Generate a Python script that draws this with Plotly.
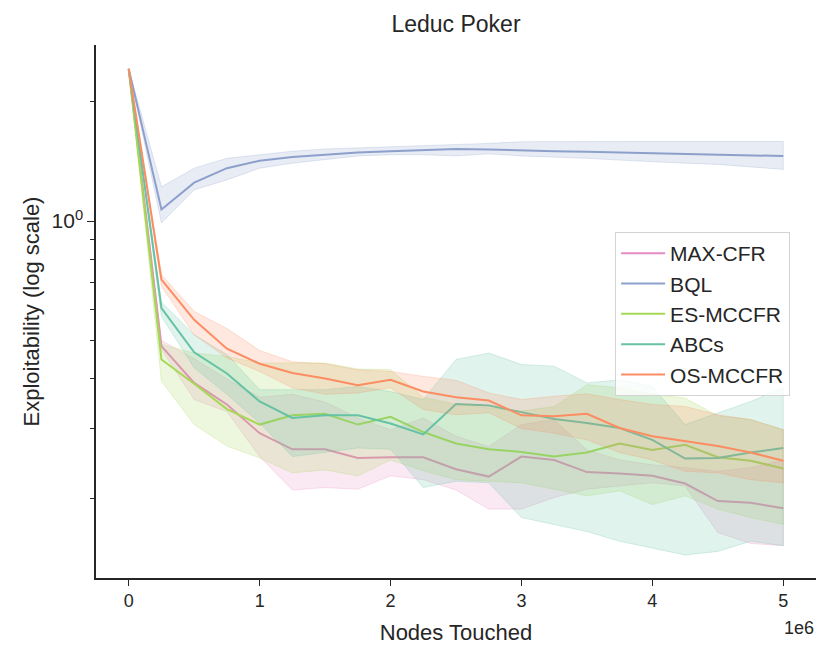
import plotly.graph_objects as go

# Leduc Poker exploitability curves (mean with confidence band)
nodes = [0, 250000, 500000, 750000, 1000000, 1250000, 1500000, 1750000, 2000000,
         2250000, 2500000, 2750000, 3000000, 3250000, 3500000, 3750000, 4000000,
         4250000, 4500000, 4750000, 5000000]

max_cfr = [2.42, 0.484, 0.391, 0.345, 0.292, 0.266, 0.266, 0.253, 0.254, 0.254, 0.237,
           0.227, 0.255, 0.250, 0.233, 0.231, 0.228, 0.218, 0.197, 0.195, 0.189]
max_cfr_lo = [2.42, 0.475, 0.355, 0.331, 0.255, 0.210, 0.213, 0.211, 0.228, 0.223, 0.210,
              0.188, 0.188, 0.201, 0.211, 0.215, 0.219, 0.215, 0.164, 0.154, 0.152]
max_cfr_hi = [2.42, 0.500, 0.450, 0.400, 0.360, 0.366, 0.350, 0.319, 0.298, 0.319, 0.287,
              0.270, 0.307, 0.316, 0.265, 0.250, 0.243, 0.239, 0.234, 0.239, 0.250]

bql = [2.42, 1.07, 1.25, 1.36, 1.42, 1.45, 1.47, 1.49, 1.50, 1.51, 1.52,
       1.516, 1.507, 1.50, 1.496, 1.49, 1.485, 1.478, 1.47, 1.467, 1.459]
bql_lo = [2.42, 0.989, 1.20, 1.27, 1.36, 1.40, 1.43, 1.46, 1.47, 1.47, 1.46,
          1.478, 1.46, 1.45, 1.44, 1.425, 1.41, 1.40, 1.39, 1.37, 1.35]
bql_hi = [2.42, 1.22, 1.36, 1.44, 1.47, 1.50, 1.52, 1.53, 1.54, 1.55, 1.557,
          1.57, 1.585, 1.588, 1.588, 1.588, 1.588, 1.588, 1.588, 1.588, 1.588]

es_mccfr = [2.42, 0.448, 0.389, 0.336, 0.307, 0.324, 0.327, 0.307, 0.321, 0.294, 0.275,
            0.266, 0.262, 0.255, 0.261, 0.275, 0.265, 0.273, 0.254, 0.249, 0.238]
es_mccfr_lo = [2.42, 0.395, 0.307, 0.271, 0.253, 0.232, 0.236, 0.228, 0.250, 0.235, 0.223,
               0.221, 0.219, 0.211, 0.203, 0.209, 0.193, 0.203, 0.188, 0.179, 0.172]
es_mccfr_hi = [2.42, 0.489, 0.465, 0.456, 0.439, 0.439, 0.439, 0.424, 0.422, 0.360, 0.345,
               0.338, 0.332, 0.341, 0.387, 0.380, 0.366, 0.358, 0.323, 0.316, 0.298]

abcs = [2.42, 0.604, 0.467, 0.413, 0.351, 0.319, 0.324, 0.324, 0.309, 0.290, 0.346,
        0.343, 0.330, 0.317, 0.310, 0.301, 0.281, 0.252, 0.253, 0.261, 0.268]
abcs_lo = [2.42, 0.575, 0.427, 0.366, 0.310, 0.255, 0.261, 0.268, 0.266, 0.213, 0.221,
           0.219, 0.179, 0.172, 0.165, 0.156, 0.150, 0.144, 0.147, 0.156, 0.152]
abcs_hi = [2.42, 0.625, 0.517, 0.461, 0.376, 0.376, 0.376, 0.383, 0.372, 0.355, 0.448,
           0.465, 0.435, 0.431, 0.391, 0.398, 0.383, 0.307, 0.329, 0.351, 0.380]

os_mccfr = [2.42, 0.712, 0.564, 0.477, 0.437, 0.414, 0.401, 0.386, 0.398, 0.372, 0.360,
            0.353, 0.324, 0.322, 0.327, 0.301, 0.287, 0.279, 0.271, 0.261, 0.249]
os_mccfr_lo = [2.42, 0.685, 0.517, 0.452, 0.418, 0.380, 0.366, 0.369, 0.380, 0.335, 0.325,
               0.329, 0.300, 0.292, 0.281, 0.261, 0.250, 0.234, 0.232, 0.223, 0.219]
os_mccfr_hi = [2.42, 0.733, 0.592, 0.536, 0.472, 0.442, 0.437, 0.422, 0.418, 0.406, 0.397,
               0.369, 0.355, 0.362, 0.367, 0.355, 0.345, 0.341, 0.325, 0.316, 0.298]

x_ticks = [0, 1000000, 2000000, 3000000, 4000000, 5000000]
x_tick_labels = ["0", "1", "2", "3", "4", "5"]
y_minor_ticks = [0.2, 0.3, 0.4, 0.5, 0.6, 0.7, 0.8, 0.9, 2]

series = [
    ("MAX-CFR", max_cfr, max_cfr_lo, max_cfr_hi, (231, 138, 195)),
    ("BQL", bql, bql_lo, bql_hi, (141, 160, 203)),
    ("ES-MCCFR", es_mccfr, es_mccfr_lo, es_mccfr_hi, (166, 216, 84)),
    ("ABCs", abcs, abcs_lo, abcs_hi, (102, 194, 165)),
    ("OS-MCCFR", os_mccfr, os_mccfr_lo, os_mccfr_hi, (252, 141, 98)),
]

FONT = "Liberation Sans, Arial, sans-serif"
TEXT = "#262626"

fig = go.Figure()

for name, mean, lo, hi, (r, g, b) in series:
    # confidence band as a closed polygon
    fig.add_trace(go.Scatter(
        x=nodes + nodes[::-1],
        y=hi + lo[::-1],
        fill="toself",
        fillcolor=f"rgba({r},{g},{b},0.2)",
        line=dict(color=f"rgba({r},{g},{b},0.25)", width=1),
        mode="lines",
        hoverinfo="skip",
        showlegend=False,
    ))
    fig.add_trace(go.Scatter(
        x=nodes, y=mean, name=name, mode="lines",
        line=dict(color=f"rgb({r},{g},{b})", width=2),
    ))

# page body has an 8px margin, so the figure is a bit smaller than the window
fig.update_layout(
    width=823, height=654,
    paper_bgcolor="white", plot_bgcolor="white",
    margin=dict(l=88, r=15, t=37, b=84),
    font=dict(family=FONT, size=18, color=TEXT),
    title=dict(text="Leduc Poker", x=0.5, xref="paper", xanchor="center",
               y=0.976, yanchor="middle", font=dict(size=23, color=TEXT)),
    legend=dict(
        x=0.721, y=0.649, xanchor="left", yanchor="top",
        bgcolor="rgba(255,255,255,0.8)", bordercolor="#d3d3d3", borderwidth=1,
        font=dict(size=21, color=TEXT), tracegroupgap=0, itemwidth=44,
        entrywidth=178, entrywidthmode="pixels",
    ),
    showlegend=True,
)

fig.update_xaxes(
    range=[-250000, 5250000],
    tickvals=x_ticks, ticktext=x_tick_labels,
    ticks="outside", ticklen=6, tickwidth=1.3, tickcolor=TEXT,
    tickfont=dict(size=18),
    showline=True, linecolor=TEXT, linewidth=1.5,
    showgrid=False, zeroline=False,
    title=dict(text="Nodes Touched", font=dict(size=22, color=TEXT), standoff=14),
)

fig.update_yaxes(
    type="log",
    range=[-0.8996, 0.444],
    tickvals=[1], ticktext=["10<sup>0</sup>"],
    ticks="outside", ticklen=7, tickwidth=1.3, tickcolor=TEXT,
    tickfont=dict(size=21),
    minor=dict(tickvals=y_minor_ticks, ticks="outside", ticklen=4, tickwidth=1, tickcolor=TEXT),
    showline=True, linecolor=TEXT, linewidth=1.5,
    showgrid=False, zeroline=False,
    title=dict(text="Exploitability (log scale)", font=dict(size=22, color=TEXT), standoff=6),
)

# matplotlib-style offset label for the x axis
fig.add_annotation(
    text="1e6", xref="paper", yref="paper", x=1.0, y=-0.094,
    xanchor="right", yanchor="middle", showarrow=False,
    font=dict(size=18, color=TEXT),
)

fig.write_html("out.html")
